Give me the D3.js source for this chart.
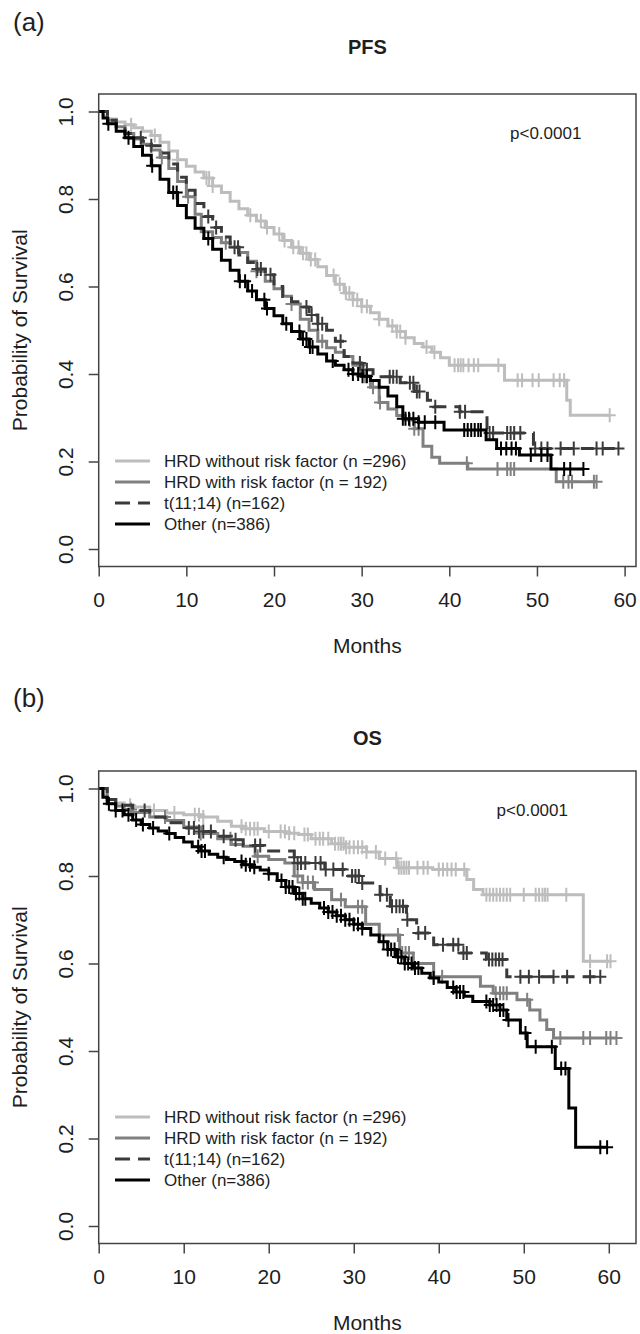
<!DOCTYPE html>
<meta charset="utf-8">
<style>
body { margin: 0; background: #fff; }
svg text { font-family: "Liberation Sans", Arial, sans-serif; fill: #1e1e1e; }
.box { fill: none; stroke: #444; stroke-width: 1.5; }
.km { fill: none; stroke-width: 3; stroke-linejoin: miter; }
.cens { fill: none; stroke-width: 2; }
</style>
<body>
<script src="https://d3js.org/d3.v7.min.js"></script>
<script>

var groups = ["HRD without risk factor (n =296)", "HRD with risk factor (n = 192)", "t(11;14) (n=162)", "Other (n=386)"];
var groupColors = ["#bdbdbd", "#808080", "#3a3a3a", "#000000"];
var groupDash = [null, null, "13,8", null];
var monthTicks = [0, 10, 20, 30, 40, 50, 60];
var probTicks = [0, 0.2, 0.4, 0.6, 0.8, 1.0];
var pText = "p<0.0001";

// PFS step curves: [month, survival]
var pfsHrdNoRisk = [[0,1],[0.5,0.99],[1,0.983],[2,0.976],[3,0.97],[4,0.963],[5,0.955],[6,0.945],[7,0.93],[8,0.91],[9,0.89],[10,0.875],[11,0.862],[12,0.848],[13,0.83],[14,0.815],[15,0.795],[16,0.778],[17,0.763],[18,0.75],[19,0.735],[20,0.72],[21,0.705],[22,0.69],[23,0.676],[24,0.662],[25,0.645],[26,0.625],[27,0.605],[28,0.585],[29,0.57],[30,0.555],[31,0.54],[32,0.525],[33,0.51],[34,0.497],[35,0.483],[36,0.47],[37,0.462],[38,0.45],[39,0.437],[40,0.42],[46.3,0.386],[53.4,0.34],[53.8,0.306],[58.3,0.306]];
var pfsHrdRisk = [[0,1],[1,0.98],[2,0.965],[3,0.95],[4,0.937],[5,0.925],[6,0.912],[7,0.895],[8,0.87],[9,0.84],[10,0.805],[11,0.765],[11.7,0.725],[13,0.712],[14,0.7],[15,0.69],[16,0.678],[17,0.658],[18,0.635],[19,0.612],[20,0.595],[21,0.578],[22,0.56],[23,0.525],[24,0.5],[25,0.475],[26,0.46],[27,0.45],[28,0.44],[29,0.42],[30,0.395],[31,0.37],[32,0.335],[33,0.32],[34,0.305],[35,0.295],[36,0.275],[37,0.235],[38,0.21],[38.9,0.196],[42.1,0.183],[52.2,0.154],[56.8,0.154]];
var pfsT1114 = [[0,1],[1,0.98],[2,0.965],[3,0.95],[4,0.94],[5,0.932],[6,0.922],[7,0.905],[8,0.88],[9,0.85],[10,0.82],[11,0.79],[12,0.76],[13,0.735],[14,0.713],[15,0.69],[16,0.672],[17,0.655],[18,0.64],[19,0.627],[20,0.6],[21,0.577],[22,0.565],[23,0.553],[24,0.535],[25,0.515],[26,0.5],[27,0.475],[28,0.44],[29,0.425],[30,0.41],[31.3,0.394],[34.4,0.38],[36,0.36],[37.5,0.34],[38.2,0.325],[41.2,0.314],[44.3,0.265],[49.6,0.23],[59.3,0.23]];
var pfsOther = [[0,1],[0.5,0.985],[1,0.972],[2,0.955],[3,0.94],[4,0.92],[5,0.9],[6,0.876],[7,0.845],[8,0.815],[9,0.785],[10,0.757],[11,0.733],[12,0.71],[13,0.685],[14,0.66],[15,0.637],[16,0.612],[17,0.59],[18,0.57],[19,0.55],[20,0.533],[21,0.515],[22,0.497],[23,0.48],[24,0.462],[25,0.446],[26,0.43],[27,0.42],[28,0.41],[29,0.4],[30,0.395],[31,0.385],[32,0.37],[33,0.35],[34,0.325],[34.7,0.298],[36.5,0.29],[39.4,0.272],[44.2,0.25],[45.4,0.23],[48,0.215],[51.6,0.183],[55.3,0.183]];

// PFS censor times (months)
var pfsHrdNoRiskCens = [3.7,6.4,9,12.3,12.6,13,17.3,18.5,19.2,20.6,21.2,22.2,22.8,23.3,23.7,24.2,24.7,26.8,27.5,28.2,28.6,29,29.5,30,30.6,32,33.5,34,34.4,35,37.4,38.3,40.6,41,41.3,41.6,42.2,42.8,43.3,45.6,47.8,48.3,49.5,50.2,51.9,52.6,53.1,58.3];
var pfsHrdRiskCens = [4,7.2,10.2,14.5,18,22,25.5,29.8,30.4,31.3,32.1,35.5,36,36.5,42,45.5,46.6,47,47.4,53,53.6,54,56.5,56.8];
var pfsT1114Cens = [4.8,6,12.5,13.4,15.5,15.9,18.1,18.5,19.6,23.7,24.3,25,25.5,27.6,29.8,30.2,30.6,33.2,33.6,34,35.5,35.9,36.3,36.6,38.4,41.2,41.8,44.6,45,46.6,47,47.4,48.1,49.8,50.5,51.2,52.7,54.2,56.8,57.5,59.3];
var pfsOtherCens = [1.1,3.4,6.1,8.5,8.9,12.5,16.1,16.7,17.5,18.9,19.2,21.4,22.9,23.3,23.7,24.1,24.4,26.7,28.5,29,29.6,30.1,30.6,34.7,35,35.4,35.9,36.5,37.2,38.4,41.7,42.1,42.5,42.9,43.3,43.6,45.9,46.5,47.1,47.6,49.3,50.5,51.2,53.1,53.8,55.3];

// OS step curves: [month, survival]
var osHrdNoRisk = [[0,1],[0.5,0.985],[1,0.975],[2,0.967],[3,0.962],[4,0.958],[6,0.95],[8,0.944],[10,0.94],[12,0.935],[14,0.925],[15.6,0.914],[17,0.908],[19.5,0.902],[22,0.898],[23.5,0.895],[25,0.885],[27.4,0.874],[29,0.866],[31.5,0.855],[33,0.84],[35.1,0.819],[39.3,0.815],[43.3,0.792],[44.1,0.769],[45.2,0.757],[57,0.605],[60.2,0.605]];
var osHrdRisk = [[0,1],[1,0.975],[2,0.96],[3,0.952],[4,0.945],[6,0.935],[8,0.927],[10,0.912],[12,0.897],[14,0.885],[15.6,0.872],[17,0.868],[18.4,0.845],[20,0.838],[21.9,0.83],[23,0.8],[24,0.785],[25.4,0.769],[27.4,0.746],[29,0.73],[31.4,0.69],[33,0.665],[35.4,0.624],[37,0.6],[39.4,0.57],[44.9,0.548],[46.4,0.532],[49.2,0.517],[50.7,0.494],[51.9,0.471],[52.7,0.449],[53.5,0.43],[60.9,0.43]];
var osT1114 = [[0,1],[1,0.975],[2,0.962],[4,0.95],[6,0.935],[7.8,0.922],[10,0.91],[11.7,0.902],[13.6,0.891],[15.6,0.883],[17,0.87],[19.5,0.857],[23,0.843],[23.4,0.83],[26.6,0.815],[29,0.8],[30.7,0.784],[33.1,0.757],[34.3,0.731],[36.2,0.7],[37.4,0.67],[39.4,0.643],[42.5,0.624],[45.6,0.609],[48,0.57],[59,0.57]];
var osOther = [[0,1],[0.5,0.98],[1,0.965],[2,0.95],[3,0.94],[4,0.928],[5,0.918],[6,0.91],[7,0.903],[8,0.897],[9,0.888],[10,0.878],[11,0.867],[12,0.857],[13,0.85],[14,0.843],[15,0.838],[16,0.833],[17,0.826],[18,0.82],[19,0.814],[20,0.805],[21,0.79],[22,0.775],[23,0.76],[24,0.748],[25,0.738],[26,0.727],[27,0.718],[28,0.709],[29,0.7],[30,0.69],[31,0.68],[32,0.665],[33,0.65],[34,0.632],[35,0.615],[36,0.6],[37,0.59],[38,0.578],[39,0.567],[40,0.558],[41,0.545],[42,0.535],[43,0.525],[44,0.513],[46,0.505],[47.2,0.494],[48,0.471],[49.6,0.441],[50.4,0.41],[53.7,0.36],[55.3,0.27],[56.1,0.18],[59.8,0.18]];

// OS censor times (months)
var osHrdNoRiskCens = [3.7,6.5,8.9,11.3,11.8,12.3,16.8,17.3,17.8,18.3,18.7,20,21.4,21.9,22.4,23,24.2,24.6,25.5,26,26.4,27,27.8,28.2,28.5,28.8,29.1,29.5,30,30.5,31,31.5,32.6,33.7,35,35.3,35.6,35.9,36.2,36.5,37.5,38.2,38.7,40,40.5,41,41.5,42,43,45.6,46,46.4,46.8,47.2,47.6,48,48.4,50,51.4,51.8,52.2,52.5,52.8,55,57.8,59.8,60.2];
var osHrdRiskCens = [3.8,7.8,12,15.5,18.7,23.4,24,24.6,25.2,28.5,30.5,31,35.2,35.7,36.1,36.5,37,39.4,40.4,46.7,47.2,47.6,48,50.4,54.3,57,57.8,59.7,60.2,60.9];
var osT1114Cens = [5.4,10.6,11.2,11.8,12.3,13.2,14.7,16.1,18.4,19,23,23.4,23.8,24.3,25.5,26.1,26.7,27.6,28.7,29.8,30.2,30.6,31,33.1,33.9,34.5,35,35.4,35.8,36.3,37.6,38.4,40.5,41.7,42.3,42.9,43.3,45.9,46.3,46.7,47.1,47.5,49.6,50.6,51.8,53.5,55.1,57.8,59];
var osOtherCens = [1.2,2,2.8,3.5,4.4,5.2,6.4,8.3,11.7,12.1,12.5,14.7,16.8,17.3,17.8,18.3,20,21.5,22,22.4,22.8,23.2,23.6,24,24.3,26.5,27,27.5,28,28.5,29,29.5,30,30.5,31,33.5,34,34.4,34.8,35.2,35.6,36,36.4,36.8,37.2,37.6,39.4,41.7,42.1,42.5,42.9,45.6,46,46.4,46.8,47.2,47.6,48.2,50.2,51.4,53.3,54.4,54.9,59,59.8];

var svg = d3.select("body").append("svg")
    .attr("width", 640)
    .attr("height", 1334);

var panels = [
  {label: "(a)", title: "PFS", top: 94, bottom: 566.5, xMax: 61.3, labelY: 31, titleY: 54,
   curves: [pfsHrdNoRisk, pfsHrdRisk, pfsT1114, pfsOther],
   cens: [pfsHrdNoRiskCens, pfsHrdRiskCens, pfsT1114Cens, pfsOtherCens],
   legendY: 461},
  {label: "(b)", title: "OS", top: 771, bottom: 1243.5, xMax: 63.2, labelY: 707, titleY: 745,
   curves: [osHrdNoRisk, osHrdRisk, osT1114, osOther],
   cens: [osHrdNoRiskCens, osHrdRiskCens, osT1114Cens, osOtherCens],
   legendY: 1117}
];

var left = 98.7, right = 636;

function survAt(curve, t) {
  var s = curve[0][1];
  for (var i = 0; i < curve.length; i++) {
    if (curve[i][0] <= t) s = curve[i][1];
  }
  return s;
}

panels.forEach(function(p) {
  var x = d3.scaleLinear().domain([0, p.xMax]).range([left, right]);
  var y = d3.scaleLinear().domain([-0.04, 1.04]).range([p.bottom, p.top]);
  var g = svg.append("g");

  // panel letter and title
  g.append("text")
      .attr("x", 13)
      .attr("y", p.labelY)
      .style("font-size", "26px")
      .text(p.label);
  g.append("text")
      .attr("x", (left + right) / 2)
      .attr("y", p.titleY)
      .attr("text-anchor", "middle")
      .style("font-size", "20px")
      .style("font-weight", "bold")
      .text(p.title);

  // curves
  var line = d3.line()
      .x(function(d) { return x(d[0]); })
      .y(function(d) { return y(d[1]); })
      .curve(d3.curveStepAfter);

  p.curves.forEach(function(c, i) {
    g.append("path")
        .datum(c)
        .attr("class", "km")
        .attr("d", line)
        .style("stroke", groupColors[i])
        .style("stroke-dasharray", groupDash[i]);
    g.append("path")
        .attr("class", "cens")
        .style("stroke", groupColors[i])
        .attr("d", p.cens[i].map(function(t) {
          var cx = x(t), cy = y(survAt(c, t));
          return "M" + (cx - 6) + "," + cy + "H" + (cx + 6) + "M" + cx + "," + (cy - 7) + "V" + (cy + 7);
        }).join(""));
  });

  // frame
  g.append("rect")
      .attr("class", "box")
      .attr("x", left)
      .attr("y", p.top)
      .attr("width", right - left)
      .attr("height", p.bottom - p.top);

  // x axis
  var xa = g.append("g")
      .attr("transform", "translate(0," + p.bottom + ")")
      .call(d3.axisBottom(x).tickValues(monthTicks).tickSize(10).tickFormat(d3.format("d")));
  xa.select(".domain").remove();
  xa.selectAll("line").style("stroke", "#444").style("stroke-width", 1.5);
  xa.selectAll("text")
      .attr("y", 0).attr("dy", 0)
      .attr("transform", "translate(0,40)")
      .style("font-size", "21px")
      .attr("font-family", null);

  // y axis
  var ya = g.append("g")
      .attr("transform", "translate(" + left + ",0)")
      .call(d3.axisLeft(y).tickValues(probTicks).tickSize(10).tickFormat(d3.format(".1f")));
  ya.select(".domain").remove();
  ya.selectAll("line").style("stroke", "#444").style("stroke-width", 1.5);
  ya.selectAll("text")
      .attr("x", 0).attr("dy", 0)
      .attr("y", -25.7)
      .attr("text-anchor", "middle")
      .attr("transform", "rotate(-90)")
      .style("font-size", "21px")
      .attr("font-family", null);

  // axis titles
  g.append("text")
      .attr("x", (left + right) / 2)
      .attr("y", p.bottom + 86)
      .attr("text-anchor", "middle")
      .style("font-size", "21px")
      .text("Months");
  g.append("text")
      .attr("transform", "translate(27," + ((p.top + p.bottom) / 2) + ") rotate(-90)")
      .attr("text-anchor", "middle")
      .style("font-size", "21px")
      .text("Probability of Survival");

  // p value
  g.append("text")
      .attr("x", x(51))
      .attr("y", y(0.95) + 6)
      .attr("text-anchor", "middle")
      .style("font-size", "17px")
      .text(pText);

  // legend
  groups.forEach(function(name, i) {
    var ly = p.legendY + i * 21;
    g.append("line")
        .attr("x1", 115).attr("x2", 150)
        .attr("y1", ly).attr("y2", ly)
        .style("stroke", groupColors[i])
        .style("stroke-width", 3)
        .style("stroke-dasharray", groupDash[i] ? "15,8" : null);
    g.append("text")
        .attr("x", 164)
        .attr("y", ly + 6)
        .style("font-size", "17px")
        .text(name);
  });
});

</script>
</body>
